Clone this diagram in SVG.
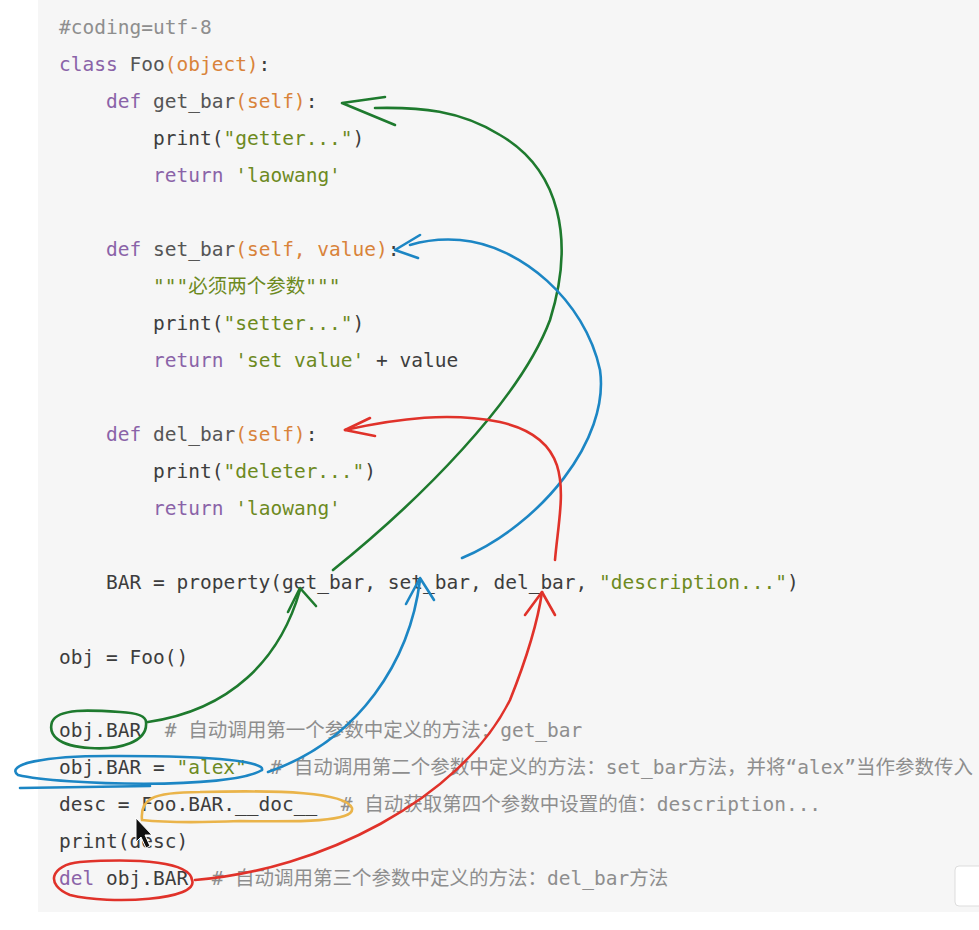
<svg xmlns="http://www.w3.org/2000/svg" width="979" height="930" viewBox="0 0 979 930">
<style>
text{font-family:"DejaVu Sans Mono","Liberation Mono","Noto Sans CJK SC",monospace;font-size:19.5px;fill:#3d3d3d;white-space:pre}
.k{fill:#8a63a8}.p{fill:#d9833a}.s{fill:#6d8a1e}.c{fill:#8e8e8e}.f{fill:#555}
.g{stroke:#1e7a2e}.b{stroke:#1c86c4}.r{stroke:#e0322a}.y{stroke:#eab44a}
path{fill:none;stroke-width:2.6;stroke-linecap:round;stroke-linejoin:round}
</style>
<rect width="979" height="930" fill="#fff"/>
<rect x="38" y="0" width="941" height="912" fill="#f6f6f6"/>
<rect x="955" y="866" width="30" height="40" rx="4" fill="#fff" stroke="#ddd"/>
<g id="code">
<text x="59" y="34" class="c">#coding=utf-8</text>
<text x="59" y="71"><tspan class="k">class</tspan> <tspan class="f">Foo</tspan><tspan class="p">(object)</tspan>:</text>
<text x="106" y="108"><tspan class="k">def</tspan> <tspan class="f">get_bar</tspan><tspan class="p">(self)</tspan>:</text>
<text x="153" y="145">print(<tspan class="s">"getter..."</tspan>)</text>
<text x="153" y="182"><tspan class="k">return</tspan> <tspan class="s">'laowang'</tspan></text>
<text x="106" y="256"><tspan class="k">def</tspan> <tspan class="f">set_bar</tspan><tspan class="p">(self, value)</tspan>:</text>
<text x="153" y="293" class="s">"""必须两个参数"""</text>
<text x="153" y="330">print(<tspan class="s">"setter..."</tspan>)</text>
<text x="153" y="367"><tspan class="k">return</tspan> <tspan class="s">'set value'</tspan> + value</text>
<text x="106" y="441"><tspan class="k">def</tspan> <tspan class="f">del_bar</tspan><tspan class="p">(self)</tspan>:</text>
<text x="153" y="478">print(<tspan class="s">"deleter..."</tspan>)</text>
<text x="153" y="515"><tspan class="k">return</tspan> <tspan class="s">'laowang'</tspan></text>
<text x="106" y="589">BAR = property(get_bar, set_bar, del_bar, <tspan class="s">"description..."</tspan>)</text>
<text x="59" y="664">obj = Foo()</text>
<text x="59" y="737">obj.BAR  <tspan class="c"># 自动调用第一个参数中定义的方法：get_bar</tspan></text>
<text x="59" y="774">obj.BAR = <tspan class="s">"alex"</tspan>  <tspan class="c"># 自动调用第二个参数中定义的方法：set_bar方法，并将“alex”当作参数传入</tspan></text>
<text x="59" y="811">desc = Foo.BAR.__doc__  <tspan class="c"># 自动获取第四个参数中设置的值：description...</tspan></text>
<text x="59" y="848">print(desc)</text>
<text x="59" y="885"><tspan class="k">del</tspan> obj.BAR  <tspan class="c"># 自动调用第三个参数中定义的方法：del_bar方法</tspan></text>
</g>
<g id="connectors">
<path class="g" d="M333 570 C420 500 520 400 550 320 C575 240 560 170 500 135 C460 110 420 107 375 108"/>
<path class="g" d="M385 97 L342 103 L395 125"/>
<path class="g" d="M146 722 C148 742 120 750 90 748 C58 746 48 735 52 722 C58 708 90 710 120 712 C138 713 146 716 146 722 M148 722 C230 710 280 660 300 590"/>
<path class="g" d="M288 612 L300 588 L316 606"/>
<path class="b" d="M462 558 C540 525 610 440 600 370 C585 300 520 245 460 240 C435 238 420 242 410 245"/>
<path class="b" d="M420 235 L395 250 L418 258"/>
<path class="b" d="M262 770 C230 790 60 785 18 775 C5 765 40 755 120 756 C220 756 265 762 262 770 M20 788 L150 786 M268 772 C360 740 410 660 420 580"/>
<path class="b" d="M406 604 L420 578 L434 600"/>
<path class="r" d="M555 560 C560 500 580 440 500 422 C450 412 400 418 345 430"/>
<path class="r" d="M370 418 L345 430 L375 436"/>
<path class="r" d="M192 880 C200 900 110 905 70 895 C45 885 50 865 80 862 C140 858 190 862 192 880 M195 880 C320 870 460 800 510 700 C530 650 538 620 542 592"/>
<path class="r" d="M525 615 L542 592 L555 615"/>
<path class="y" d="M142 820 C140 800 150 792 200 792 C280 790 345 792 352 808 C355 822 300 822 240 821 C190 823 160 822 142 820"/>
</g>
<polygon points="136,818 136,842 141,837 146,848 150,846 145,835 152,835" fill="#111" stroke="#fff" stroke-width="1"/>
</svg>
